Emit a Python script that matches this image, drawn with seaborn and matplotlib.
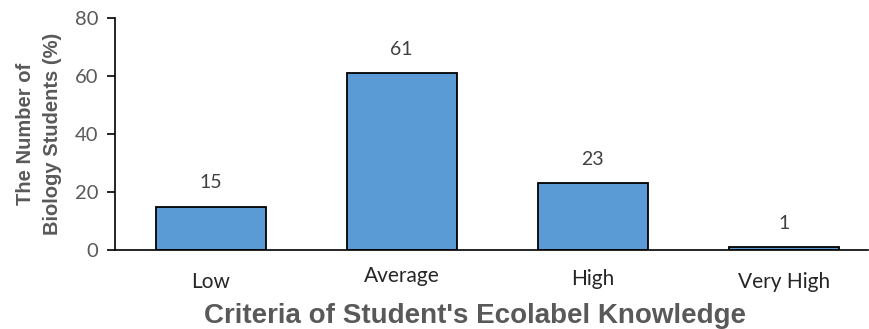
import matplotlib
matplotlib.use("Agg")
import matplotlib.pyplot as plt
import matplotlib.transforms as mtransforms
import seaborn as sns
import pandas as pd

categories = ["Low", "Average", "High", "Very High"]
percentages = [15, 61, 23, 1]
y_ticks = [0, 20, 40, 60, 80]

df = pd.DataFrame({"criteria": categories, "percent": percentages})

sns.set_theme(style="white")
plt.rcParams["font.family"] = ["Lato", "DejaVu Sans"]

fig = plt.figure(figsize=(8.69, 3.29), dpi=100)
ax = fig.add_axes([115 / 869, 1 - 250 / 329, (868 - 115) / 869, (250 - 18) / 329])

sns.barplot(data=df, x="criteria", y="percent", color="#5B9BD5", saturation=1,
            width=0.575, edgecolor="black", linewidth=1.3, ax=ax)

for i, v in enumerate(percentages):
    ax.annotate(f"{v}", (i, v), xytext=(0, 11), textcoords="offset points",
                ha="center", va="bottom", fontsize=14, color="#404040")

ax.set_ylim(0, 80)
ax.set_xlim(-0.5, 3.44)
ax.set_yticks(y_ticks)
ax.tick_params(axis="y", which="both", left=True, length=6, width=1.2, color="black",
               labelsize=14.5, labelcolor="#595959", pad=6)
ax.tick_params(axis="x", bottom=False, labelsize=15, labelcolor="#262626", pad=0)

# category labels sit on slightly different baselines
label_drop_px = [38, 32, 35, 38]
for lbl, drop in zip(ax.get_xticklabels(), label_drop_px):
    lbl.set_verticalalignment("baseline")
    lbl.set_transform(ax.get_xaxis_transform()
                      + mtransforms.ScaledTranslation(0, -drop / 100, fig.dpi_scale_trans))

for side in ["top", "right"]:
    ax.spines[side].set_visible(False)
for side in ["left", "bottom"]:
    ax.spines[side].set_color("black")
    ax.spines[side].set_linewidth(1.2)

ax.set_ylabel("The Number of\nBiology Students (%)", fontsize=14.5, fontweight="bold",
              color="#595959", family=["Liberation Sans", "DejaVu Sans"], labelpad=9,
              linespacing=1.55)
ax.set_xlabel("Criteria of Student's Ecolabel Knowledge", fontsize=20, fontweight="bold",
              color="#595959", family=["Liberation Sans", "DejaVu Sans"], va="baseline")
ax.xaxis.set_label_coords(0.478, -73 / 232)

fig.savefig("out.png", dpi=100)
